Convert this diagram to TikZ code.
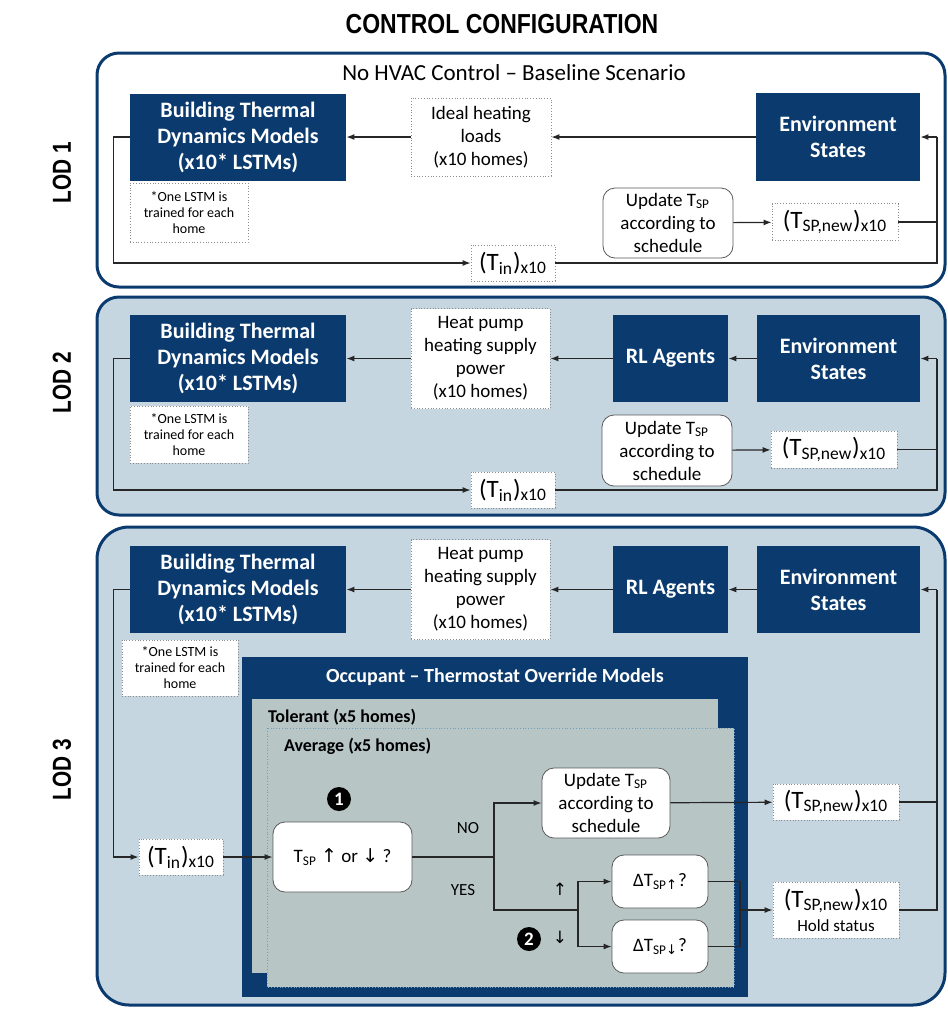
\documentclass[tikz,border=0pt]{standalone}
\usepackage{fontspec}
\setmainfont{Carlito}
\newfontfamily\headfont{Liberation Sans}
\newfontfamily\arrowfont{DejaVu Sans}
\usetikzlibrary{calc, positioning, arrows.meta}

\definecolor{navy}{HTML}{0B3B6E}
\definecolor{panelblue}{HTML}{C6D6E0}
\definecolor{occgray}{HTML}{B7C5C4}
\definecolor{dotgray}{HTML}{8C8C8C}
\definecolor{avgline}{HTML}{6F9FC0}

\newcommand{\Tsp}{T\textsubscript{SP}}
\newcommand{\Tnew}{(T\textsubscript{SP,new})\textsubscript{x10}}
\newcommand{\Tin}{(T\textsubscript{in})\textsubscript{x10}}
\newcommand{\uparr}{{\arrowfont ↑}}
\newcommand{\dnarr}{{\arrowfont ↓}}

\tikzset{
	sz/.style 2 args={minimum width=#1*0.5pt, minimum height=#2*0.5pt},
	navybox/.style={fill=navy, text=white, align=center, inner sep=0pt, font=\fontsize{11}{13}\selectfont\bfseries},
	dotbox/.style={draw=dotgray, densely dotted, fill=white, align=center, inner sep=0pt, font=\fontsize{9.5}{11.5}\selectfont},
	notebox/.style={dotbox, font=\fontsize{7}{8}\selectfont},
	valbox/.style={dotbox, font=\fontsize{12.5}{14}\selectfont},
	roundbox/.style={draw=gray!70!black, fill=white, rounded corners=6pt, align=center, inner sep=0pt, font=\fontsize{9.5}{11.5}\selectfont},
	numdot/.style={circle, fill=black, text=white, inner sep=0pt, minimum size=12pt, font=\fontsize{9.5}{10}\selectfont\bfseries},
	lodlabel/.style={rotate=90, font=\headfont\bfseries\fontsize{13}{15}\selectfont},
	panel/.style={draw=navy, line width=1.5pt, rounded corners=11pt},
	line/.style={line width=0.6pt, draw=black!85},
	arr/.style={line, -{Latex[length=4pt, width=3pt]}},
}

\begin{document}
\begin{tikzpicture}[x=0.5pt, y=-0.5pt]
	\useasboundingbox (0,0) rectangle (948,1009);

	\node[font=\headfont\bfseries\fontsize{12.5}{15}\selectfont] (title) at (502,24) {\scalebox{0.92}[1.1]{CONTROL CONFIGURATION}};

	% panels
	\draw[panel, fill=white] (97,53) rectangle (945,287);
	\draw[panel, fill=panelblue] (97,297) rectangle (945,515);
	\draw[panel, fill=panelblue, rounded corners=16pt] (97,527) rectangle (945,1005);

	\node[lodlabel] (lod1) at (62,173) {\scalebox{0.8}[1]{LOD 1}};
	\node[lodlabel] (lod2) at (62,383) {\scalebox{0.8}[1]{LOD 2}};
	\node[lodlabel] (lod3) at (62,770) {\scalebox{0.8}[1]{LOD 3}};

	% LOD 1
	\node[font=\fontsize{11.5}{13}\selectfont] (base) at (514,73) {No HVAC Control -- Baseline Scenario};
	\node[navybox, sz={216}{87}] (btdmA) at (238,137) {Building Thermal\\Dynamics Models\\(x10* LSTMs)};
	\node[dotbox, sz={140}{78}] (idealA) at (481,137) {Ideal heating\\loads\\(x10 homes)};
	\node[navybox, sz={164}{88}] (envA) at (838,137) {Environment\\States};
	\node[notebox, sz={118}{59}] (noteA) at (189,212.5) {*One LSTM is\\trained for each\\home};
	\node[roundbox, sz={130}{70}] (updA) at (668,223) {Update \Tsp\\according to\\schedule};
	\node[valbox, sz={126}{37}] (newA) at (835,222) {\Tnew};
	\node[valbox, sz={84}{36}] (tinA) at (513,263) {\Tin};
	\coordinate (rA) at (937,137);

	\draw[arr] (envA) -- (idealA);
	\draw[arr] (idealA) -- (btdmA);
	\draw[arr] (updA) -- (newA);
	\draw[arr] (btdmA.west) -- ++(-16,0) |- (tinA.west);
	\draw[line] (tinA.east) -| (rA);
	\draw[line] (newA.east) -- (newA.east -| rA);
	\draw[arr] (rA) -- (envA.east);

	% LOD 2
	\node[navybox, sz={216}{87}] (btdmB) at (238,358.5) {Building Thermal\\Dynamics Models\\(x10* LSTMs)};
	\node[dotbox, sz={139}{100}] (heatB) at (480.5,358.5) {Heat pump\\heating supply\\power\\(x10 homes)};
	\node[navybox, sz={115}{87}] (rlB) at (670.5,358.5) {RL Agents};
	\node[navybox, sz={163}{87}] (envB) at (838.5,358.5) {Environment\\States};
	\node[notebox, sz={118}{57}] (noteB) at (189,434.5) {*One LSTM is\\trained for each\\home};
	\node[roundbox, sz={130}{71}] (updB) at (667,450.5) {Update \Tsp\\according to\\schedule};
	\node[valbox, sz={126}{37}] (newB) at (834,449.5) {\Tnew};
	\node[valbox, sz={84}{36}] (tinB) at (513,490) {\Tin};
	\coordinate (rB) at (937,358.5);

	\draw[arr] (envB) -- (rlB);
	\draw[arr] (rlB) -- (heatB);
	\draw[arr] (heatB) -- (btdmB);
	\draw[arr] (updB) -- (newB);
	\draw[arr] (btdmB.west) -- ++(-16,0) |- (tinB.west);
	\draw[line] (tinB.east) -| (rB);
	\draw[line] (newB.east) -- (newB.east -| rB);
	\draw[arr] (rB) -- (envB.east);

	% LOD 3
	\node[navybox, sz={216}{87}] (btdmC) at (238,589.5) {Building Thermal\\Dynamics Models\\(x10* LSTMs)};
	\node[dotbox, sz={139}{100}] (heatC) at (480.5,589.5) {Heat pump\\heating supply\\power\\(x10 homes)};
	\node[navybox, sz={115}{87}] (rlC) at (670.5,589.5) {RL Agents};
	\node[navybox, sz={163}{87}] (envC) at (838.5,589.5) {Environment\\States};
	\node[notebox, sz={116}{56}] (noteC) at (180,668) {*One LSTM is\\trained for each\\home};

	\fill[navy] (242,657) rectangle (748,997);
	\node[text=white, font=\fontsize{10}{12}\selectfont\bfseries] (occ) at (495,677) {Occupant -- Thermostat Override Models};
	\fill[occgray] (252,699) rectangle (718,973);
	\node[anchor=west, font=\fontsize{9}{11}\selectfont\bfseries] (tol) at (261,717) {Tolerant (x5 homes)};
	\draw[avgline, densely dotted, fill=occgray] (267,728) rectangle (734,987);
	\node[anchor=west, font=\fontsize{9}{11}\selectfont\bfseries] (avg) at (277,746) {Average (x5 homes)};

	\node[numdot] (one) at (339,799) {1};
	\node[numdot] (two) at (529,939) {2};
	\node[roundbox, sz={139}{70}] (decide) at (342.5,857) {\Tsp{} \uparr{} or \dnarr{} ?};
	\node[roundbox, sz={128}{70}] (updC) at (606,803) {Update \Tsp\\according to\\schedule};
	\node[roundbox, sz={96}{53}] (dUp) at (660,881.5) {ΔT\textsubscript{SP\uparr}?};
	\node[roundbox, sz={96}{53}] (dDown) at (660,946.5) {ΔT\textsubscript{SP\dnarr}?};
	\node[font=\fontsize{8.5}{10}\selectfont] (no) at (468,828) {NO};
	\node[font=\fontsize{8.5}{10}\selectfont] (yes) at (463,890) {YES};
	\node[font=\fontsize{8.5}{10}\selectfont] (upmark) at (560,889) {\uparr};
	\node[font=\fontsize{8.5}{10}\selectfont] (dnmark) at (560,937) {\dnarr};

	\node[valbox, sz={84}{36}] (tinC) at (181,857) {\Tin};
	\node[valbox, sz={126}{36}] (newC) at (836,802) {\Tnew};
	\node[valbox, sz={126}{56}] (holdC) at (836,910) {\Tnew\\[-2pt]{\fontsize{8.5}{10}\selectfont Hold status}};

	\coordinate (split) at (494,857);
	\coordinate (fork) at (578,910);
	\coordinate (join) at (740,910);
	\coordinate (rC) at (937,589.5);

	\draw[arr] (envC) -- (rlC);
	\draw[arr] (rlC) -- (heatC);
	\draw[arr] (heatC) -- (btdmC);
	\draw[arr] (btdmC.west) -- ++(-16,0) |- (tinC.west);
	\draw[arr] (tinC) -- (decide);
	\draw[line] (decide.east) -- (split);
	\draw[arr] (split) |- (updC.west);
	\draw[line] (split) |- (fork);
	\draw[arr] (fork) |- (dUp.west);
	\draw[arr] (fork) |- (dDown.west);
	\draw[line] (dUp.east) -| (join);
	\draw[line] (dDown.east) -| (join);
	\draw[arr] (join) -- (holdC.west);
	\draw[arr] (updC) -- (newC);
	\draw[line] (newC.east) -| (rC);
	\draw[line] (holdC.east) -| (rC);
	\draw[arr] (rC) -- (envC.east);
\end{tikzpicture}
\end{document}
